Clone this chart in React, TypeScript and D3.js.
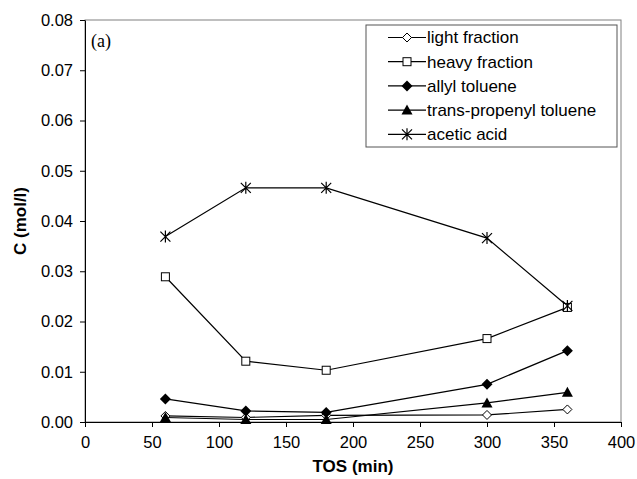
import React, { useRef, useEffect } from 'react';
import * as d3 from 'd3';

const tos = [60, 120, 180, 300, 360];
const lightFraction = [0.0012, 0.0009, 0.0013, 0.0014, 0.0025];
const heavyFraction = [0.0289, 0.0121, 0.0103, 0.0166, 0.0228];
const allylToluene = [0.0046, 0.0022, 0.0019, 0.0075, 0.0142];
const transPropenylToluene = [0.0009, 0.0005, 0.0005, 0.0038, 0.0059];
const aceticAcid = [0.0369, 0.0466, 0.0466, 0.0366, 0.0231];

const seriesNames = ['light fraction', 'heavy fraction', 'allyl toluene', 'trans-propenyl toluene', 'acetic acid'];
const seriesMarkers = ['diamondOpen', 'squareOpen', 'diamondFilled', 'triangle', 'star'];
const xTicks = [0, 50, 100, 150, 200, 250, 300, 350, 400];
const yTicks = [0, 0.01, 0.02, 0.03, 0.04, 0.05, 0.06, 0.07, 0.08];

const FONT = '"Liberation Sans", Arial, sans-serif';

const drawMarker = (g, type, cx, cy) => {
  if (type === 'diamondOpen') {
    g.append('path').attr('d', `M${cx},${cy - 4.5}L${cx + 4.5},${cy}L${cx},${cy + 4.5}L${cx - 4.5},${cy}Z`)
      .attr('fill', '#fff').attr('stroke', '#000').attr('stroke-width', 1);
  } else if (type === 'squareOpen') {
    g.append('rect').attr('x', cx - 4).attr('y', cy - 4).attr('width', 8).attr('height', 8)
      .attr('fill', '#fff').attr('stroke', '#000').attr('stroke-width', 1);
  } else if (type === 'diamondFilled') {
    g.append('path').attr('d', `M${cx},${cy - 5.5}L${cx + 5.5},${cy}L${cx},${cy + 5.5}L${cx - 5.5},${cy}Z`)
      .attr('fill', '#000');
  } else if (type === 'triangle') {
    g.append('path').attr('d', `M${cx},${cy - 5.5}L${cx + 5.5},${cy + 4.5}L${cx - 5.5},${cy + 4.5}Z`)
      .attr('fill', '#000');
  } else {
    const r = 5;
    g.append('path')
      .attr('d', `M${cx - r},${cy - r}L${cx + r},${cy + r}M${cx - r},${cy + r}L${cx + r},${cy - r}M${cx},${cy - r - 1}L${cx},${cy + r + 1}`)
      .attr('stroke', '#000').attr('stroke-width', 1.2).attr('fill', 'none');
  }
};

const ConcentrationChart = ({ width = 637, height = 479 }) => {
  const svgRef = useRef();

  useEffect(() => {
    const margin = { top: 20, right: 16, bottom: 57, left: 85 };
    const innerWidth = width - margin.left - margin.right;
    const innerHeight = height - margin.top - margin.bottom;

    const root = d3.select(svgRef.current);
    root.selectAll('*').remove();
    root.attr('width', width).attr('height', height);

    const svg = root.append('g').attr('transform', `translate(${margin.left},${margin.top})`);

    const x = d3.scaleLinear().domain([0, 400]).range([0, innerWidth]);
    const y = d3.scaleLinear().domain([0, 0.08]).range([innerHeight, 0]);

    // plot frame (top/right in grey)
    svg.append('rect').attr('x', 0).attr('y', 0).attr('width', innerWidth).attr('height', innerHeight)
      .attr('fill', 'none').attr('stroke', '#808080').attr('stroke-width', 1);

    const xAxis = svg.append('g')
      .attr('transform', `translate(0,${innerHeight})`)
      .call(d3.axisBottom(x).tickValues(xTicks).tickSize(5).tickSizeOuter(0).tickFormat(d3.format('d')));
    xAxis.selectAll('text').attr('font-family', FONT).attr('font-size', 16.5).attr('fill', '#000')
      .attr('y', 26).attr('dy', 0);

    const yAxis = svg.append('g')
      .call(d3.axisLeft(y).tickValues(yTicks).tickSize(5).tickSizeOuter(0).tickFormat(d3.format('.2f')));
    yAxis.selectAll('text').attr('font-family', FONT).attr('font-size', 16.5).attr('fill', '#000')
      .attr('x', -12);

    [xAxis, yAxis].forEach(a => {
      a.select('.domain').attr('stroke', '#000');
      a.selectAll('line').attr('stroke', '#000');
    });

    const allSeries = [lightFraction, heavyFraction, allylToluene, transPropenylToluene, aceticAcid];
    const line = d3.line().x(d => x(d[0])).y(d => y(d[1]));

    allSeries.forEach((vals) => {
      const pts = tos.map((t, j) => [t, vals[j]]);
      svg.append('path').attr('d', line(pts)).attr('fill', 'none').attr('stroke', '#000').attr('stroke-width', 1.2);
    });
    allSeries.forEach((vals, i) => {
      const g = svg.append('g');
      tos.forEach((t, j) => drawMarker(g, seriesMarkers[i], x(t), y(vals[j])));
    });

    // legend
    const legend = root.append('g').attr('transform', 'translate(366,25)');
    legend.append('rect').attr('x', 0).attr('y', 0).attr('width', 251).attr('height', 122)
      .attr('fill', '#fff').attr('stroke', '#555').attr('stroke-width', 1);
    seriesNames.forEach((name, i) => {
      const ly = 12.5 + i * 24.2;
      legend.append('line').attr('x1', 22).attr('x2', 60).attr('y1', ly).attr('y2', ly)
        .attr('stroke', '#000').attr('stroke-width', 1.2);
      drawMarker(legend, seriesMarkers[i], 41, ly);
      legend.append('text').attr('x', 61).attr('y', ly).attr('dy', '0.35em')
        .attr('font-family', FONT).attr('font-size', 17).text(name);
    });

    svg.append('text').attr('x', 6).attr('y', 27).attr('font-family', '"Liberation Serif", "Times New Roman", serif')
      .attr('font-size', 18).text('(a)');

    root.append('text').attr('x', margin.left + innerWidth / 2).attr('y', 472)
      .attr('text-anchor', 'middle').attr('font-family', FONT).attr('font-size', 17).attr('font-weight', 'bold')
      .text('TOS (min)');

    root.append('text').attr('transform', `translate(26,${margin.top + innerHeight / 2}) rotate(-90)`)
      .attr('text-anchor', 'middle').attr('font-family', FONT).attr('font-size', 17).attr('font-weight', 'bold')
      .text('C (mol/l)');
  }, [width, height]);

  return <svg ref={svgRef} style={{ position: 'absolute', left: 0, top: 0 }}></svg>;
};

export default function App() {
  return <ConcentrationChart />;
}
